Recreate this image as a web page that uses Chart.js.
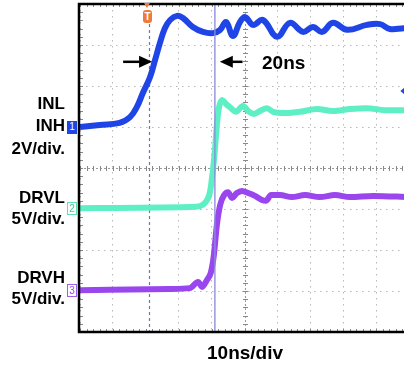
<!DOCTYPE html>
<html>
<head>
<meta charset="utf-8">
<script src="https://cdn.jsdelivr.net/npm/chart.js@4/dist/chart.umd.min.js"></script>
<style>
  html, body { margin: 0; padding: 0; background: #fff; overflow: hidden; }
  #wrap { position: relative; width: 412px; height: 366px; }
  #scope { position: absolute; left: 0; top: 0; }
  .lbl { position: absolute; font-family: 'Liberation Sans', Arial, sans-serif; font-weight: bold; color: #000; white-space: nowrap; }
  .side { left: 0; width: 65px; text-align: right; font-size: 17px; line-height: 20px; }
  .big { font-size: 19px; line-height: 22px; }
  .ch { position: absolute; left: 67px; width: 10px; height: 13px; box-sizing: border-box;
        font: 10px 'Liberation Sans', Arial, sans-serif; text-align: center; line-height: 12px; }
  .trig { position: absolute; left: 143px; top: 10px; width: 9px; height: 13px; border-radius: 3px;
          background: #f07a3a; color: #fff; font: bold 10px 'Liberation Sans', Arial, sans-serif;
          text-align: center; line-height: 13px; }
  .trigTip { position: absolute; left: 144px; top: 3px; width: 0; height: 0;
             border-left: 3.5px solid transparent; border-right: 3.5px solid transparent; border-top: 5px solid #f07a3a; }
</style>
</head>
<body>
<div id="wrap">
  <canvas id="scope" width="412" height="366"></canvas>
  <div class="lbl side" style="top:94px">INL</div>
  <div class="lbl side" style="top:116px">INH</div>
  <div class="lbl side" style="top:139px">2V/div.</div>
  <div class="lbl side" style="top:188px">DRVL</div>
  <div class="lbl side" style="top:209px">5V/div.</div>
  <div class="lbl side" style="top:268px">DRVH</div>
  <div class="lbl side" style="top:289px">5V/div.</div>
  <div class="lbl big" style="left:262px; top:52px">20ns</div>
  <div class="lbl big" style="left:207px; top:342px">10ns/div</div>
  <div class="ch" style="top:121px; background:#1f45e6; color:#fff;">1</div>
  <div class="ch" style="top:202px; border:1px solid #5ee0b8; color:#3cc89c; background:#fff;">2</div>
  <div class="ch" style="top:284px; border:1px solid #a060e8; color:#9a46ee; background:#fff;">3</div>
  <div class="trigTip"></div>
  <div class="trig">T</div>
</div>
<script>
// time in ns, values in volts
const inlTime = [0, 6, 12, 15.2, 17.3, 19.1, 21.3, 22.8, 24.3, 25.8, 27.4, 29.5, 31.3, 34.3, 37.4, 40.4, 42.6, 44.4, 46.5, 48.6, 50.2, 52.6, 55.6, 59.9, 63.8, 67.8, 70.8, 73.6, 76.9, 81.2, 87.2, 91.2, 94.2, 98.5, 100];
const inlVolts = [0, 0.1, 0.2, 0.48, 0.98, 1.66, 2.44, 3.26, 4.1, 4.82, 5.22, 5.42, 5.32, 4.88, 4.64, 4.58, 4.74, 5.12, 4.44, 5.12, 5.36, 4.98, 5.22, 4.4, 5.08, 4.64, 4.88, 4.64, 5.08, 4.74, 4.98, 5.02, 4.78, 4.82, 4.8];

const drvlTime = [0, 33.4, 36.5, 38.0, 39.5, 40.4, 41.0, 41.6, 42.2, 43.2, 44.4, 45.9, 47.4, 49.5, 51.4, 52.9, 54.7, 56.8, 58.7, 62.3, 66.9, 72.0, 76.9, 82.1, 87.2, 92.7, 100];
const drvlVolts = [0.1, 0.25, 0.35, 0.75, 2.05, 4.75, 7.2, 10.25, 12.3, 13.3, 12.8, 12.3, 11.85, 12.55, 11.85, 11.6, 11.95, 12.3, 11.85, 11.7, 11.85, 12.2, 11.95, 12.2, 12.3, 12.05, 12.05];

const drvhTime = [0, 27.4, 33.4, 35.9, 37.1, 38.6, 39.8, 40.7, 41.6, 42.6, 43.8, 45.0, 46.2, 47.7, 49.2, 51.1, 53.2, 55.3, 56.5, 58.1, 60.8, 64.4, 68.4, 72.9, 77.5, 82.1, 89.1, 100];
const drvhVolts = [0.1, 0.25, 0.35, 1.1, 0.5, 1.35, 2.3, 4.4, 8.05, 10.5, 11.7, 12.05, 11.35, 11.95, 12.2, 11.95, 11.6, 11.1, 11.0, 11.7, 11.7, 11.45, 11.7, 11.45, 11.7, 11.45, 11.6, 11.45];

// channel settings: volts per division and ground position (divisions from centre)
const voltsPerDiv = [2, 5, 5];
const groundDiv = [1, -1, -3];
const traceColors = ['#1f45e6', '#5ef0c4', '#9a46ee'];

const triggerTime = 21;
const cursorTime = 41;
const triggerLevel = 1.88; // divisions

function toPoints(time, volts, ch) {
  return time.map((t, i) => ({ x: t, y: groundDiv[ch] + volts[i] / voltsPerDiv[ch] }));
}

function arrow(ctx, x0, x1, y) {
  const dir = Math.sign(x1 - x0);
  ctx.beginPath();
  ctx.moveTo(x0, y);
  ctx.lineTo(x1 - dir * 10, y);
  ctx.stroke();
  ctx.beginPath();
  ctx.moveTo(x1, y);
  ctx.lineTo(x1 - dir * 13, y - 6);
  ctx.lineTo(x1 - dir * 13, y + 6);
  ctx.closePath();
  ctx.fill();
}

const scopeMarks = {
  id: 'scopeMarks',
  beforeDatasetsDraw(chart) {
    const { ctx, chartArea: a, scales: { x, y } } = chart;
    const cx = Math.round(x.getPixelForValue(50)) + 0.5;
    const cy = Math.round(y.getPixelForValue(0)) + 0.5;
    ctx.save();
    // centre lines
    ctx.strokeStyle = '#999';
    ctx.lineWidth = 1;
    ctx.setLineDash([2, 2]);
    ctx.beginPath();
    ctx.moveTo(a.left, cy); ctx.lineTo(a.right, cy);
    ctx.moveTo(cx, a.top); ctx.lineTo(cx, a.bottom);
    ctx.stroke();
    ctx.setLineDash([]);
    // minor ticks
    ctx.strokeStyle = '#888';
    ctx.beginPath();
    for (let t = 0; t <= 100; t += 2) {
      const px = Math.round(x.getPixelForValue(t)) + 0.5;
      ctx.moveTo(px, cy - 2.5); ctx.lineTo(px, cy + 2.5);
      ctx.moveTo(px, a.top); ctx.lineTo(px, a.top + 3);
      ctx.moveTo(px, a.bottom - 3); ctx.lineTo(px, a.bottom);
    }
    for (let v = -4; v <= 4.01; v += 0.2) {
      const py = Math.round(y.getPixelForValue(v)) + 0.5;
      ctx.moveTo(cx - 2.5, py); ctx.lineTo(cx + 2.5, py);
      ctx.moveTo(a.left, py); ctx.lineTo(a.left + 3, py);
    }
    ctx.stroke();
    // trigger position line
    const tx = Math.round(x.getPixelForValue(triggerTime)) + 0.5;
    ctx.strokeStyle = '#6a78b4';
    ctx.lineWidth = 1.2;
    ctx.setLineDash([3, 3]);
    ctx.beginPath();
    ctx.moveTo(tx, a.top + 20); ctx.lineTo(tx, a.bottom);
    ctx.stroke();
    ctx.setLineDash([]);
    ctx.restore();
  },
  afterDatasetsDraw(chart) {
    const { ctx, chartArea: a, scales: { x, y } } = chart;
    ctx.save();
    // cursor
    const kx = x.getPixelForValue(cursorTime);
    ctx.strokeStyle = 'rgba(140,140,220,0.9)';
    ctx.lineWidth = 1.5;
    ctx.beginPath();
    ctx.moveTo(kx, a.top); ctx.lineTo(kx, a.bottom);
    ctx.stroke();
    // measurement arrows
    const ay = y.getPixelForValue(2.59);
    ctx.strokeStyle = '#000';
    ctx.fillStyle = '#000';
    ctx.lineWidth = 2.5;
    arrow(ctx, x.getPixelForValue(13.1), x.getPixelForValue(21.9), ay);
    arrow(ctx, x.getPixelForValue(49.4), x.getPixelForValue(42.5), ay);
    // trigger level marker
    const dx = x.getPixelForValue(99.2), dy = y.getPixelForValue(triggerLevel);
    ctx.fillStyle = traceColors[0];
    ctx.beginPath();
    ctx.moveTo(dx - 6, dy); ctx.lineTo(dx, dy - 5); ctx.lineTo(dx + 6, dy); ctx.lineTo(dx, dy + 5);
    ctx.closePath();
    ctx.fill();
    // frame
    ctx.strokeStyle = '#000';
    ctx.lineWidth = 2.5;
    ctx.beginPath();
    ctx.moveTo(a.right + 5, a.top); ctx.lineTo(a.left - 1, a.top);
    ctx.lineTo(a.left - 1, a.bottom); ctx.lineTo(a.right + 5, a.bottom);
    ctx.stroke();
    ctx.restore();
  }
};

const gridColor = (c) => {
  const v = c.tick.value;
  return (c.scale.axis === 'x' ? (v === 50 || v === 20) : v === 0) ? 'rgba(0,0,0,0)' : 'rgba(160,160,160,0.75)';
};

new Chart(document.getElementById('scope').getContext('2d'), {
  type: 'line',
  data: {
    datasets: [
      { label: 'DRVL', data: toPoints(drvlTime, drvlVolts, 1), borderColor: traceColors[1], cubicInterpolationMode: 'monotone' },
      { label: 'DRVH', data: toPoints(drvhTime, drvhVolts, 2), borderColor: traceColors[2], cubicInterpolationMode: 'monotone' },
      { label: 'INL/INH', data: toPoints(inlTime, inlVolts, 0), borderColor: traceColors[0], tension: 0.4 },
    ],
  },
  options: {
    responsive: false,
    animation: false,
    layout: { padding: { left: 80, right: 3, top: 4, bottom: 34 } },
    elements: {
      line: { borderWidth: 6, fill: false },
      point: { radius: 0 },
    },
    plugins: { legend: { display: false }, tooltip: { enabled: false } },
    scales: {
      x: {
        type: 'linear', min: 0, max: 100,
        ticks: { display: false, stepSize: 10 },
        grid: { drawTicks: false, color: gridColor },
        border: { display: false, dash: [1.5, 4.5] },
        afterFit(s) { s.height = 0; },
      },
      y: {
        min: -4, max: 4,
        ticks: { display: false, stepSize: 1 },
        grid: { drawTicks: false, color: gridColor },
        border: { display: false, dash: [1.5, 4.5] },
        afterFit(s) { s.width = 0; },
      },
    },
  },
  plugins: [scopeMarks],
});
</script>
</body>
</html>
